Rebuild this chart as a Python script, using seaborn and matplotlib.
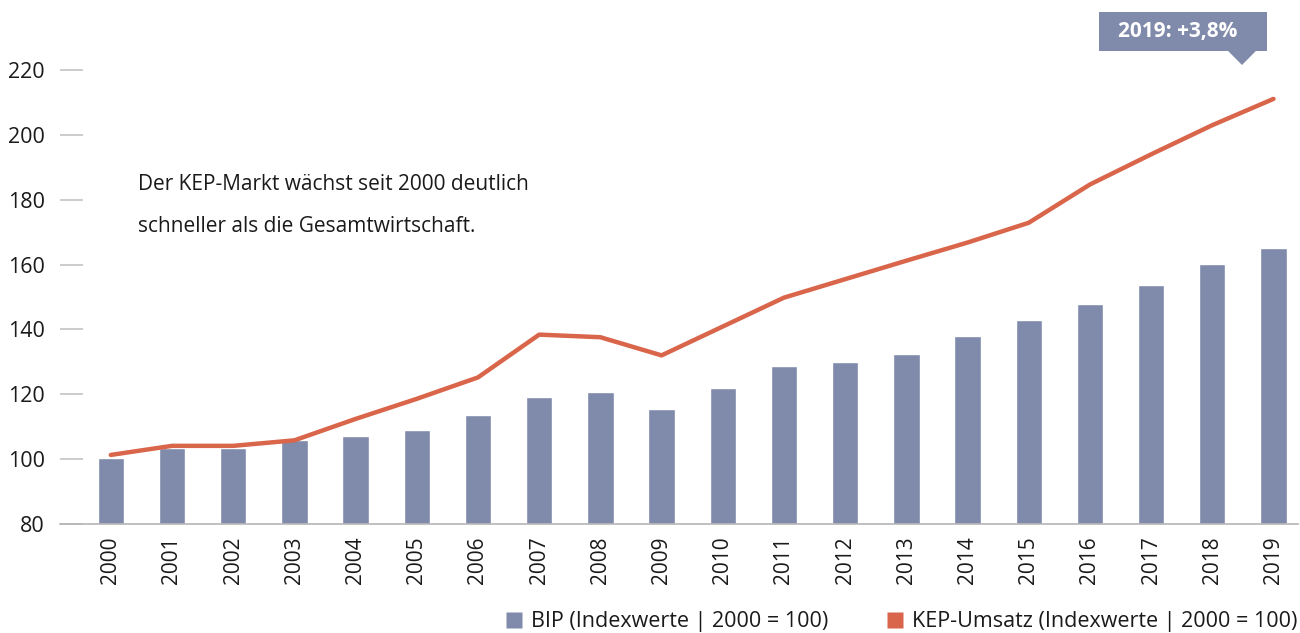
import matplotlib
matplotlib.use("Agg")
import matplotlib.pyplot as plt
import seaborn as sns
import pandas as pd
from matplotlib.patches import Rectangle, Polygon
from matplotlib.lines import Line2D

years = [str(y) for y in range(2000, 2020)]
bip = [100.5, 103.4, 103.5, 105.8, 107.1, 109.0, 113.6, 119.2, 120.7, 115.5,
       121.9, 128.7, 130.0, 132.4, 138.0, 142.9, 147.8, 153.7, 160.2, 165.1]
kep = [101.3, 104.1, 104.1, 105.8, 112.4, 118.6, 125.2, 138.4, 137.6, 132.0,
       140.9, 149.8, 155.5, 161.2, 166.8, 172.9, 184.7, 194.0, 203.0, 211.1]
yticks = [80, 100, 120, 140, 160, 180, 200, 220]
label_bip = "BIP (Indexwerte | 2000 = 100)"
label_kep = "KEP-Umsatz (Indexwerte | 2000 = 100)"
note_lines = ["Der KEP-Markt wächst seit 2000 deutlich", "schneller als die Gesamtwirtschaft."]
callout = "2019: +3,8%"

BAR = "#808BAB"
LINE = "#D9654A"
TXT = "#1a1a1a"

sns.set_theme(style="white")
plt.rcParams["font.family"] = ["Open Sans", "DejaVu Sans"]

df = pd.DataFrame({"Jahr": years, "BIP": bip, "KEP": kep})

W, H = 1300, 633
fig = plt.figure(figsize=(13, 6.33), dpi=100)
ax = fig.add_axes([60 / W, 1 - 524 / H, (1298 - 60) / W, (524 - 37.6) / H])

sns.barplot(data=df, x="Jahr", y="BIP", color=BAR, width=0.43, saturation=1,
            ax=ax, zorder=2)
sns.lineplot(data=df, x="Jahr", y="KEP", color=LINE, linewidth=3.2, ax=ax,
             zorder=3, sort=False)

# bars start from 80
for p in ax.patches:
    h = p.get_height()
    p.set_y(80)
    p.set_height(h - 80)

ax.set_ylim(80, 230)
ax.set_xlim(-0.83, 19.4)
ax.set_yticks(yticks)
ax.set_yticklabels([str(v) for v in yticks], fontsize=15.5, color=TXT)
ax.tick_params(axis="y", direction="in", length=16.5, width=1.2, color="#c4c4c4",
               pad=11, left=True)
ax.tick_params(axis="x", length=0, pad=9, labelsize=15, labelcolor=TXT,
               labelrotation=90)
ax.set_xlabel("")
ax.set_ylabel("")
for s in ["top", "right", "left"]:
    ax.spines[s].set_visible(False)
ax.spines["bottom"].set_color("#b5b5b5")
ax.spines["bottom"].set_linewidth(1.2)
ax.grid(False)

# note text
fig.text(138 / W, 1 - 184 / H, note_lines[0], fontsize=15, color=TXT,
         ha="left", va="center")
fig.text(138 / W, 1 - 226 / H, note_lines[1], fontsize=15, color=TXT,
         ha="left", va="center")

# callout box
bx0, bx1, by0, by1 = 1099, 1267, 12.5, 50.5
fig.patches.append(Rectangle((bx0 / W, 1 - by1 / H), (bx1 - bx0) / W, (by1 - by0) / H,
                             transform=fig.transFigure, facecolor=BAR,
                             edgecolor="none"))
fig.patches.append(Polygon([(1227 / W, 1 - by1 / H + 0.001), (1257 / W, 1 - by1 / H + 0.001),
                            (1242 / W, 1 - 65 / H)], closed=True,
                           transform=fig.transFigure, facecolor=BAR, edgecolor="none"))
fig.text(1178 / W, 1 - 31.5 / H, callout, fontsize=15, fontweight="bold",
         color="white", ha="center", va="center")

# legend
handles = [Line2D([], [], marker="s", linestyle="none", markersize=11,
                  markerfacecolor=BAR, markeredgecolor="none"),
           Line2D([], [], marker="s", linestyle="none", markersize=11,
                  markerfacecolor=LINE, markeredgecolor="none")]
leg = fig.legend(handles, [label_bip, label_kep], loc="center right",
                 bbox_to_anchor=(1300 / W, 1 - 622 / H), ncol=2, frameon=False,
                 fontsize=15.5, handletextpad=0.3, columnspacing=2.6,
                 borderaxespad=0, borderpad=0.1, handlelength=1.0)
for t in leg.get_texts():
    t.set_color(TXT)

fig.savefig("out.png", dpi=100)
